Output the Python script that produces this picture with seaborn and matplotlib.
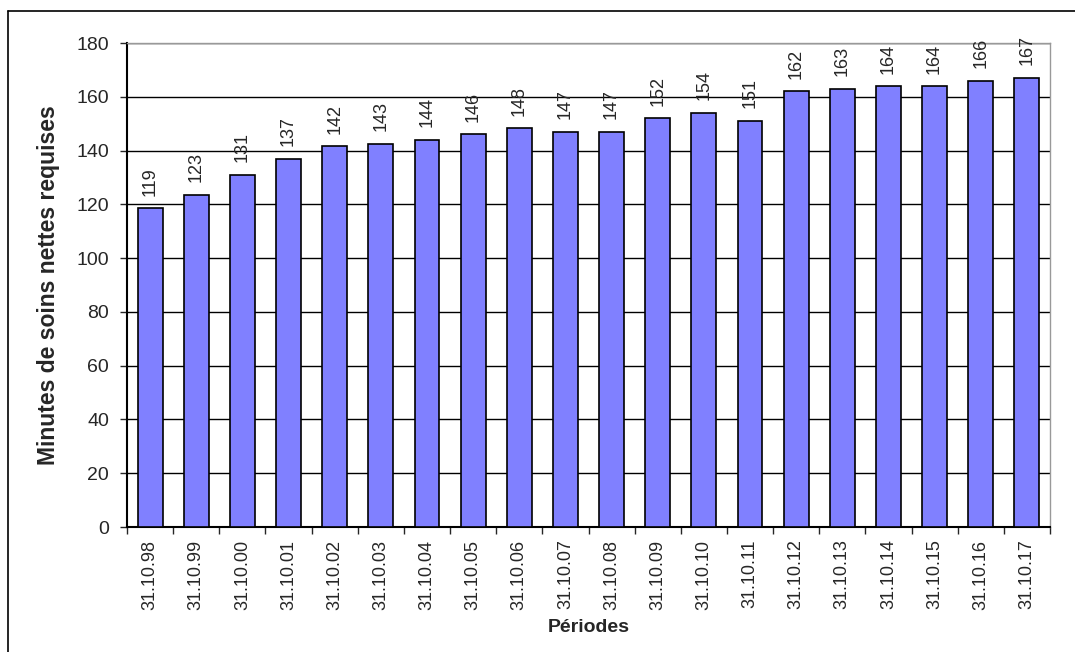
import matplotlib
matplotlib.use("Agg")
import matplotlib.pyplot as plt
from matplotlib.lines import Line2D
from matplotlib.ticker import MultipleLocator, FixedLocator
import seaborn as sns
import pandas as pd

periods = ["31.10.98", "31.10.99", "31.10.00", "31.10.01", "31.10.02", "31.10.03",
           "31.10.04", "31.10.05", "31.10.06", "31.10.07", "31.10.08", "31.10.09",
           "31.10.10", "31.10.11", "31.10.12", "31.10.13", "31.10.14", "31.10.15",
           "31.10.16", "31.10.17"]
minutes = [118.6, 123.5, 131, 137, 141.6, 142.6, 144, 146, 148.3, 147,
           147, 152, 154, 151, 162, 163, 164, 164, 166, 167]
labels = ["119", "123", "131", "137", "142", "143", "144", "146", "148", "147",
          "147", "152", "154", "151", "162", "163", "164", "164", "166", "167"]

df = pd.DataFrame({"periode": periods, "minutes": minutes})

sns.set_style("white")
plt.rcParams["font.family"] = ["Liberation Sans", "DejaVu Sans"]

fig = plt.figure(figsize=(10.75, 6.52), dpi=100)
ax = fig.add_axes([127 / 1075, 125 / 652, 923 / 1075, 484 / 652])

sns.barplot(data=df, x="periode", y="minutes", color="#8080FF", saturation=1,
            width=0.54, edgecolor="black", linewidth=1.2, ax=ax, zorder=3)

# value labels above bars, rotated like the original
for i, lab in enumerate(labels):
    ax.annotate(lab, (i, minutes[i]), xytext=(0, 9), textcoords="offset points",
                rotation=90, ha="center", va="bottom", fontsize=13, zorder=4)

ax.set_ylim(0, 180)
ax.set_xlim(-0.5, len(periods) - 0.5)
ax.yaxis.set_major_locator(MultipleLocator(20))
ax.grid(axis="y", color="black", linewidth=1.0, zorder=0)
ax.set_axisbelow(True)

ax.tick_params(axis="y", labelsize=14, length=5, width=1, direction="out", left=True, pad=8)
ax.tick_params(axis="x", which="major", length=0, labelsize=13, rotation=90, pad=9)
ax.xaxis.set_minor_locator(FixedLocator([i - 0.5 for i in range(len(periods) + 1)]))
ax.tick_params(axis="x", which="minor", length=5, width=1, direction="out", bottom=True)

for side in ["left", "bottom"]:
    ax.spines[side].set_color("black")
    ax.spines[side].set_linewidth(1.5)
for side in ["top", "right"]:
    ax.spines[side].set_visible(True)
    ax.spines[side].set_color("#999999")
    ax.spines[side].set_linewidth(1.0)

ax.set_xlabel("Périodes", fontsize=14, fontweight="bold", labelpad=7)
ax.set_ylabel("Minutes de soins nettes requises", fontsize=16.5, fontweight="bold", labelpad=12)

# outer chart border (Excel chart area)
fig.add_artist(Line2D([8 / 1075, 8 / 1075], [0, 1 - 11 / 652], color="black", linewidth=1.2,
                      transform=fig.transFigure))
fig.add_artist(Line2D([8 / 1075, 1], [1 - 11 / 652, 1 - 11 / 652], color="black", linewidth=1.2,
                      transform=fig.transFigure))

fig.savefig("out.png", dpi=100)
